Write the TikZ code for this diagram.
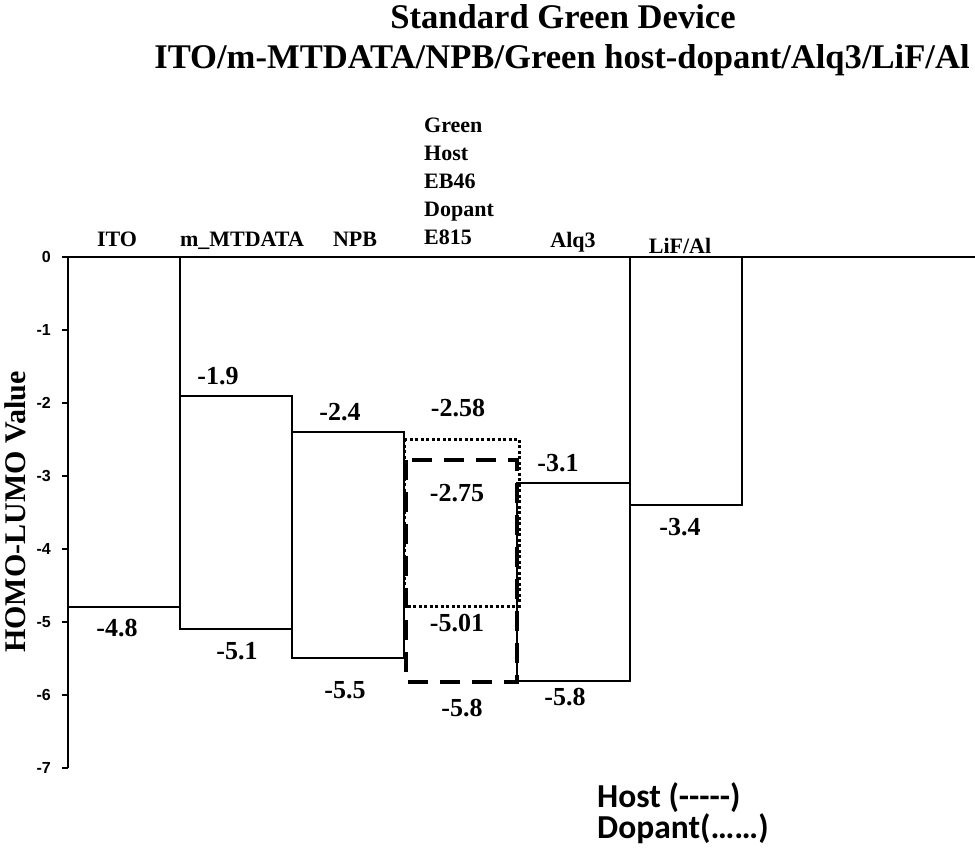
\documentclass[tikz,border=0pt]{standalone}
\usepackage{fontspec}
\setmainfont{Liberation Serif}
\newfontfamily\legendfont{Carlito}
\newfontfamily\tickfont{Liberation Sans}
\begin{document}
\begin{tikzpicture}[x=1pt,y=-1pt,
  thinline/.style={line width=1.2pt},
  axisline/.style={line width=1.8pt},
  hostline/.style={line width=4pt, dash pattern=on 20pt off 12pt},
  dopline/.style={line width=3pt, dash pattern=on 3pt off 2.5pt},
  ticklbl/.style={font=\tickfont\bfseries\fontsize{16}{16}\selectfont, anchor=east, inner sep=0pt},
  val/.style={font=\bfseries\fontsize{26}{26}\selectfont, inner sep=0pt},
  layerlbl/.style={font=\bfseries\fontsize{22}{22}\selectfont, inner sep=0pt, anchor=base},
  titlelbl/.style={font=\bfseries\fontsize{34.6}{34.6}\selectfont, inner sep=0pt, anchor=base},
  legendlbl/.style={font=\legendfont\bfseries\fontsize{33.5}{33.5}\selectfont, inner sep=0pt, anchor=base west},
]
\useasboundingbox (0,0) rectangle (975,860);

% titles
\node[titlelbl] (t1) at (563,28) {Standard Green Device};
\node[titlelbl] (t2) at (562,68) {ITO/m-MTDATA/NPB/Green host-dopant/Alq3/LiF/Al};

% axes
\draw[axisline] (68,257) -- (68,768);
\draw[axisline] (62,257) -- (975,257);
\foreach \v/\yy in {0/257,-1/330,-2/403,-3/476,-4/549,-5/622,-6/695,-7/768}{
  \draw[axisline] (62,\yy) -- (68,\yy);
  \node[ticklbl] (tick\v) at (51,\yy) {\v};
}
\node[font=\bfseries\fontsize{30}{30}\selectfont, rotate=90, inner sep=0pt] (ylab) at (15,512) {HOMO-LUMO Value};

% layer labels
\node[layerlbl] (ito) at (117,246) {ITO};
\node[layerlbl] (mtdata) at (242,246) {m\_MTDATA};
\node[layerlbl] (npb) at (355,246) {NPB};
\node[font=\bfseries\fontsize{22}{28}\selectfont, inner sep=0pt, anchor=base west, align=left] (green) at (424,244)
  {Green\\Host\\EB46\\Dopant\\E815};
\node[layerlbl] (alq) at (573,247) {Alq3};
\node[layerlbl] (lif) at (680,253) {LiF/Al};

% energy levels
\draw[thinline] (68,607) -- (180,607);
\draw[thinline] (180,257) -- (180,629);
\draw[thinline] (180,396) rectangle (292,629);
\draw[thinline] (292,432) rectangle (404,658);
\draw[thinline] (517,483) rectangle (630,681);
\draw[thinline] (630,257) -- (630,681);
\draw[thinline] (630,505) -- (742,505) -- (742,257);

% host / dopant
\draw[dopline] (404,439) rectangle (519,606);
\draw[hostline] (406,460) rectangle (517,682);

% values
\node[val] (v19) at (218,376) {-1.9};
\node[val] (v51) at (237,651) {-5.1};
\node[val] (v48) at (117,628) {-4.8};
\node[val] (v24) at (340,412) {-2.4};
\node[val] (v55) at (345,690) {-5.5};
\node[val] (v258) at (458,408) {-2.58};
\node[val] (v275) at (457,493) {-2.75};
\node[val] (v501) at (457,623) {-5.01};
\node[val] (v58h) at (462,708) {-5.8};
\node[val] (v31) at (558,463) {-3.1};
\node[val] (v58a) at (565,697) {-5.8};
\node[val] (v34) at (680,527) {-3.4};

% legend
\node[legendlbl] (host) at (597,807) {Host (-----)};
\node[legendlbl] (dop) at (597,838) {Dopant(\dots\dots)};
\end{tikzpicture}
\end{document}
